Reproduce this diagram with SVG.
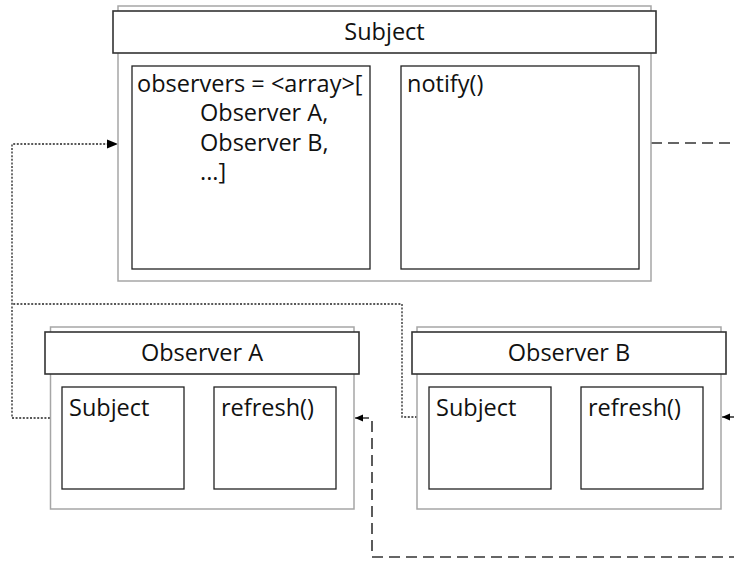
<svg xmlns="http://www.w3.org/2000/svg" width="734" height="561" viewBox="0 0 734 561">
<style>
.outer{fill:#fff;stroke:#a6a6a6;stroke-width:1.5}
.head{fill:#fff;stroke:#333;stroke-width:1.6}
.inner{fill:#fff;stroke:#222;stroke-width:1.3}
text{font-family:"Open Sans","Liberation Sans",sans-serif;font-size:23.5px;fill:#111}
.c{text-anchor:middle}
.dot{fill:none;stroke:#222;stroke-width:1.3;stroke-dasharray:2 1.6}
.dash{fill:none;stroke:#333;stroke-width:1.6;stroke-dasharray:11 6}
</style>
<defs>
<marker id="big" markerUnits="userSpaceOnUse" markerWidth="12" markerHeight="10" refX="11" refY="5" orient="auto"><path d="M0,0.5 L11,5 L0,9.5 Z" fill="#000"/></marker>
<marker id="small" markerUnits="userSpaceOnUse" markerWidth="9" markerHeight="8" refX="8" refY="4" orient="auto"><path d="M0,0.5 L8,4 L0,7.5 Z" fill="#000"/></marker>
</defs>
<g id="connectors">
<path class="dot" d="M50,418 H12 V144 H108"/>
<path d="M108,144 H118" stroke="none" fill="none" marker-end="url(#big)"/>
<path class="dot" d="M417,417 H402 V304 H12"/>
<path class="dash" d="M651,143 H734"/>
<path class="dash" d="M740,557 H372 V418 H362"/>
<path d="M361,418 H355" stroke="#000" stroke-width="1" marker-end="url(#small)"/>
<path class="dash" d="M740,417 H730"/>
<path d="M728,417 H722" stroke="#000" stroke-width="1" marker-end="url(#small)"/>
</g>
<g id="subject">
<rect class="outer" x="118" y="6" width="533" height="275"/>
<rect class="head" x="113" y="11" width="543" height="42"/>
<text class="c" x="384.5" y="40">Subject</text>
<rect class="inner" x="132" y="66" width="238" height="203"/>
<rect class="inner" x="401" y="66" width="238" height="203"/>
<text x="137" y="92">observers = &lt;array&gt;[</text>
<text x="200" y="121">Observer A,</text>
<text x="200" y="151">Observer B,</text>
<text x="200" y="180">...]</text>
<text x="407" y="92">notify()</text>
</g>
<g id="observer-a">
<rect class="outer" x="50.5" y="327" width="303.5" height="182"/>
<rect class="head" x="45" y="332" width="314" height="42"/>
<text class="c" x="202" y="361">Observer A</text>
<rect class="inner" x="62" y="387" width="122" height="102"/>
<rect class="inner" x="214" y="387" width="122" height="102"/>
<text x="69" y="416">Subject</text>
<text x="221" y="416">refresh()</text>
</g>
<g id="observer-b">
<rect class="outer" x="417" y="327" width="304" height="182"/>
<rect class="head" x="412" y="332" width="314" height="42"/>
<text class="c" x="569" y="361">Observer B</text>
<rect class="inner" x="429" y="387" width="122" height="102"/>
<rect class="inner" x="581" y="387" width="122" height="102"/>
<text x="436" y="416">Subject</text>
<text x="588" y="416">refresh()</text>
</g>
</svg>
